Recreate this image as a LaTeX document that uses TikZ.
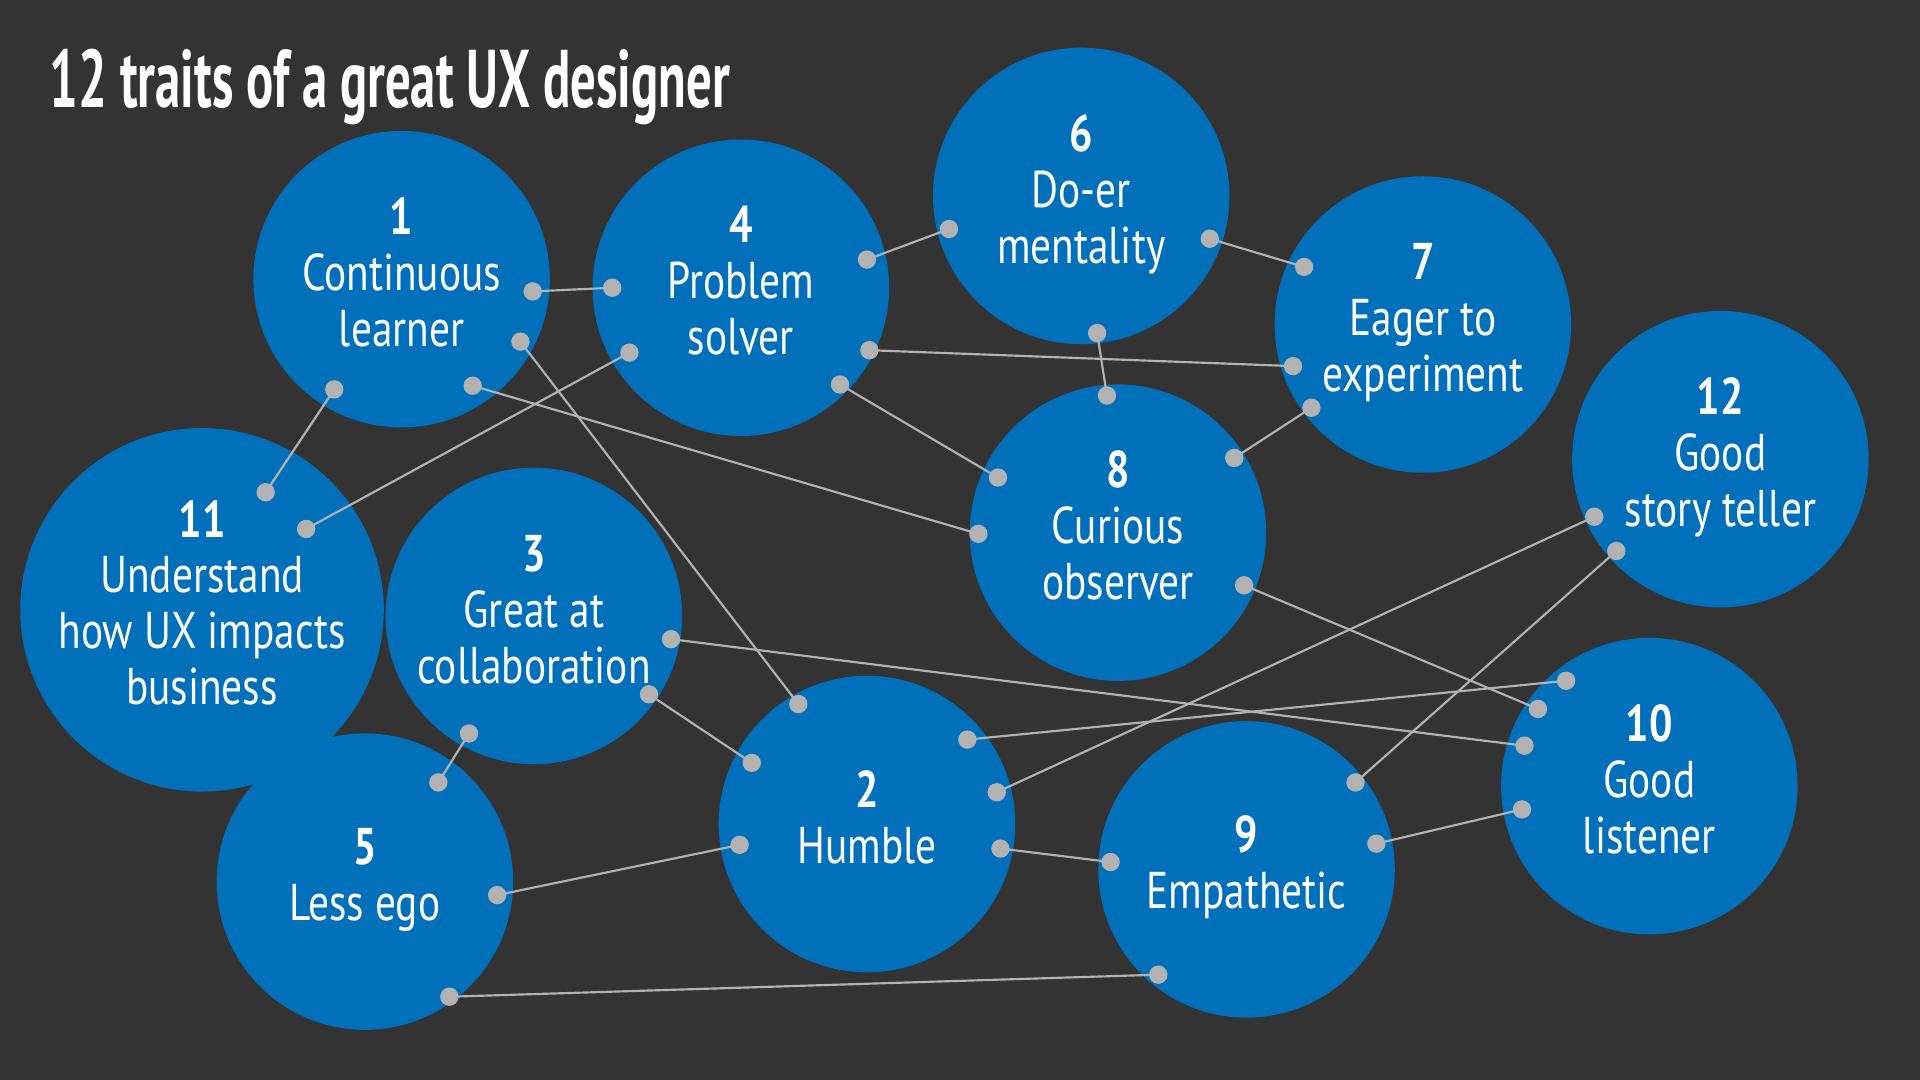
\documentclass[tikz,border=0pt]{standalone}
\usepackage{fontspec}
\usepackage{graphicx}
\setmainfont{PT Sans}
\definecolor{bgdark}{HTML}{333333}
\definecolor{traitblue}{HTML}{0070BA}
\newcommand{\trait}[2]{\scalebox{0.8}[1]{\begin{tabular}{@{}c@{}}\textbf{#1}\\#2\end{tabular}}}
\tikzset{
  bubble/.style={circle, fill=traitblue, minimum size=2.42cm, inner sep=0pt,
    text=white, font=\fontsize{12}{13}\selectfont},
  link/.style={draw=black!30, line width=0.5pt},
  dot/.style={fill=black!30, circle, inner sep=0pt, minimum size=1.5mm},
}
\begin{document}
\begin{tikzpicture}[x=0.01cm,y=-0.01cm]
  \fill[bgdark] (0,0) rectangle (1568,882);
  \node[anchor=base west, text=white, inner sep=0pt] (title) at (40,88)
    {\scalebox{0.62}[1]{\fontsize{19}{20}\selectfont\bfseries 12 traits of a great UX designer}};

  % circles
  \node[bubble] (t1) at (328,228) {\trait{1}{Continuous\\learner}};
  \node[bubble] (t4) at (605,235) {\trait{4}{Problem\\solver}};
  \node[bubble] (t6) at (883,160) {\trait{6}{Do-er\\mentality}};
  \node[bubble] (t7) at (1162,265) {\trait{7}{Eager to\\experiment}};
  \node[bubble] (t12) at (1405,375) {\trait{12}{Good\\story teller}};
  \node[bubble] (t11) at (165,498) {\trait{11}{Understand\\how UX impacts\\business}};
  \node[bubble] (t3) at (436,503) {\trait{3}{Great at\\collaboration}};
  \node[bubble] (t8) at (913,435) {\trait{8}{Curious\\observer}};
  \node[bubble] (t2) at (708,673) {\trait{2}{Humble}};
  \node[bubble] (t5) at (298,720) {\trait{5}{Less ego}};
  \node[bubble] (t9) at (1018,710) {\trait{9}{Empathetic}};
  \node[bubble] (t10) at (1347,642) {\trait{10}{Good\\listener}};

  % connector ends
  \foreach \n/\a/\b/\c/\d in {
      a/435/238/500/235, b/708/212/775/187, c/988/195/1065/218,
      d/896/272/904/323, e/710/286/1056/299, f/686/314/815/390,
      g/386/315/799/436, h/425/279/652/575, i/273/318/217/402,
      j/514/288/250/432, k/1071/333/1008/374, l/1016/478/1256/579,
      m/548/522/1245/609, n/790/604/1279/556, o/814/647/1302/422,
      p/1107/639/1320/450, q/383/599/358/639, r/530/567/614/623,
      s/406/731/604/690, t/817/693/907/704, u/1124/689/1243/661,
      v/367/814/946/796}{
    \coordinate (\n1) at (\a,\b);
    \coordinate (\n2) at (\c,\d);
    \draw[link] (\n1) -- (\n2);
    \node[dot] at (\n1) {};
    \node[dot] at (\n2) {};
  }
\end{tikzpicture}
\end{document}
